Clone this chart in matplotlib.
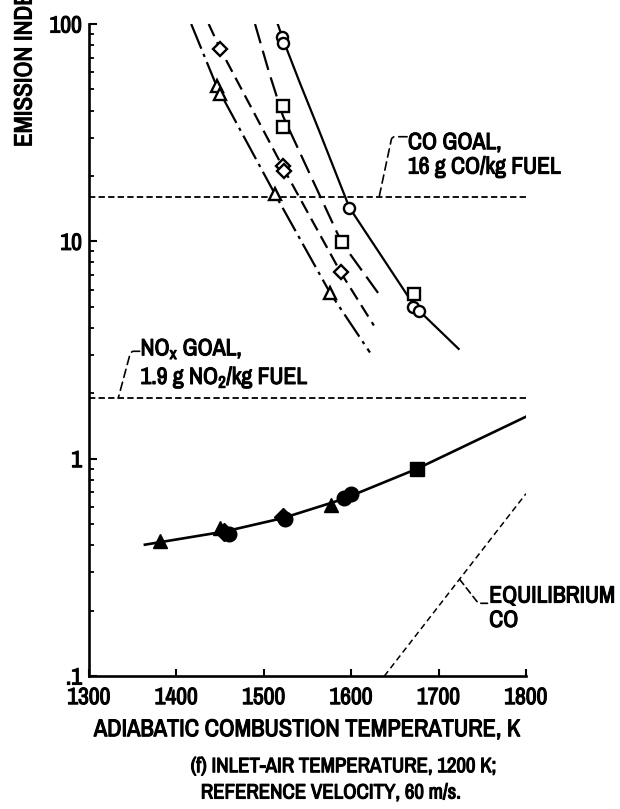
import numpy as np
import matplotlib
matplotlib.use('Agg')
import matplotlib.pyplot as plt
import matplotlib.patheffects as pe
from matplotlib import font_manager

# font: a narrow sans if there is one
names = {f.name for f in font_manager.fontManager.ttflist}
FONT = 'DejaVu Sans'
for cand in ['Archivo Narrow', 'Liberation Sans Narrow', 'Sofia Sans Condensed']:
    if cand in names:
        FONT = cand
        break
plt.rcParams['font.family'] = [FONT, 'DejaVu Sans']
plt.rcParams['mathtext.fontset'] = 'custom'
plt.rcParams['mathtext.rm'] = FONT + ':bold'
plt.rcParams['mathtext.it'] = FONT + ':bold'
plt.rcParams['mathtext.bf'] = FONT + ':bold'
plt.rcParams['mathtext.default'] = 'bf'
# thicken the strokes a bit, the scan lettering is heavy
HEAVY = [pe.withStroke(linewidth=0.8, foreground='k')]

# ---- data ----
# goal levels, g/kg fuel
CO_GOAL = 16
NOX_GOAL = 1.9

# CO emission index, open symbols
co_circle_T = [1521, 1522, 1598, 1671, 1678]
co_circle_EI = [87, 82, 14.3, 5.0, 4.8]
co_square_T = [1522, 1522, 1589, 1672]
co_square_EI = [42, 33.5, 9.9, 5.7]
co_diamond_T = [1450, 1522, 1523, 1588]
co_diamond_EI = [77, 22.2, 21.0, 7.2]
co_triangle_T = [1446, 1450, 1513, 1576]
co_triangle_EI = [52, 47.5, 16.5, 5.8]

# faired CO curves
fit_tri_T = [1417, 1446.5, 1512.8, 1575.8, 1621.5]
fit_tri_EI = [100, 51.3, 16.5, 5.8, 3.08]
fit_dia_T = [1437, 1450, 1523, 1588, 1626]
fit_dia_EI = [100, 77, 21.5, 7.2, 4.1]
fit_sq_T = [1490, 1506, 1522, 1555, 1589, 1632]
fit_sq_EI = [100, 60, 37.7, 19.5, 9.9, 5.7]
fit_cir_T = [1516, 1522, 1541, 1564, 1598, 1636, 1673, 1723]
fit_cir_EI = [100, 85, 54, 31.8, 14.3, 8.4, 5.0, 3.2]

# NOx emission index, solid symbols
nox_tri_T = [1381, 1450, 1577]
nox_tri_EI = [0.42, 0.48, 0.61]
nox_dia_T = [1455, 1522]
nox_dia_EI = [0.46, 0.54]
nox_cir_T = [1460, 1524, 1592, 1600]
nox_cir_EI = [0.45, 0.525, 0.66, 0.69]
nox_sq_T = [1675]
nox_sq_EI = [0.90]
fit_nox_T = [1364, 1455, 1522, 1590, 1675, 1800]
fit_nox_EI = [0.402, 0.462, 0.533, 0.65, 0.897, 1.56]

# equilibrium CO
eq_T = [1638, 1800]
eq_EI = [0.1, 0.69]

x_ticks = [1300, 1400, 1500, 1600, 1700, 1800]
y_ticks = [0.1, 1, 10, 100]
y_ticklabels = ['.1', '1', '10', '100']

fig = plt.figure(figsize=(6.2, 8.09), dpi=100)
ax = fig.add_axes([0.1435, 0.1644, 0.7048, 0.8059])
ax.set_yscale('log')
ax.set_xlim(1300, 1800)
ax.set_ylim(0.1, 100)

lw = 1.6
ax.plot(fit_tri_T, fit_tri_EI, color='k', lw=lw, ls=(0, (12, 2.5, 1.5, 2.5)))
ax.plot(fit_dia_T, fit_dia_EI, color='k', lw=lw, ls=(0, (6, 3)))
ax.plot(fit_sq_T, fit_sq_EI, color='k', lw=lw, ls=(0, (9, 3.5)))
ax.plot(fit_cir_T, fit_cir_EI, color='k', lw=lw, ls='-')
ax.plot(fit_nox_T, fit_nox_EI, color='k', lw=lw + 0.3, ls='-')
ax.plot(eq_T, eq_EI, color='k', lw=1.1, ls=(0, (4, 2.5)))

ax.axhline(CO_GOAL, color='k', lw=1.3, ls=(0, (3.5, 1.8)))
ax.axhline(NOX_GOAL, color='k', lw=1.3, ls=(0, (3.5, 1.8)))

opn = dict(ls='none', mfc='white', mec='k', mew=1.7, ms=8)
ax.plot(co_circle_T, co_circle_EI, marker='o', **opn)
ax.plot(co_square_T, co_square_EI, marker='s', **opn)
ax.plot(co_diamond_T, co_diamond_EI, marker='D', **dict(opn, ms=7))
ax.plot(co_triangle_T, co_triangle_EI, marker='^', **opn)

sld = dict(ls='none', mfc='k', mec='k', ms=10.5)
ax.plot(nox_tri_T, nox_tri_EI, marker='^', **sld)
ax.plot(nox_dia_T, nox_dia_EI, marker='D', **dict(sld, ms=9))
ax.plot(nox_cir_T, nox_cir_EI, marker='o', **sld)
ax.plot(nox_sq_T, nox_sq_EI, marker='s', **sld)

# labels with leaders
tfs = 17
ax.text(1665, 25, 'CO GOAL,\n16 g CO/kg FUEL', fontsize=tfs, fontweight='bold',
        va='center', ha='left', linespacing=1.2, path_effects=HEAVY)
ax.annotate('', xy=(1632, CO_GOAL), xytext=(1664, 30.3),
            arrowprops=dict(arrowstyle='-', color='k', lw=1.2, ls=(0, (5, 3)),
                            connectionstyle='angle,angleA=180,angleB=78,rad=3',
                            shrinkA=0, shrinkB=0))
ax.text(1359, 2.75, 'NO$_x$ GOAL,\n1.9 g NO$_2$/kg FUEL', fontsize=tfs,
        fontweight='bold', va='center', ha='left', linespacing=1.2,
        path_effects=HEAVY)
ax.annotate('', xy=(1333.5, NOX_GOAL), xytext=(1358, 3.12),
            arrowprops=dict(arrowstyle='-', color='k', lw=1.2, ls=(0, (5, 3)),
                            connectionstyle='angle,angleA=180,angleB=75,rad=3',
                            shrinkA=0, shrinkB=0))
eq_x = 1724
eq_y = 10 ** np.interp(eq_x, eq_T, np.log10(eq_EI))
ax.text(1758, 0.205, 'EQUILIBRIUM\nCO', fontsize=tfs, fontweight='bold',
        va='center', ha='left', linespacing=1.2, path_effects=HEAVY)
ax.annotate('', xy=(eq_x, eq_y), xytext=(1756, 0.216),
            arrowprops=dict(arrowstyle='-', color='k', lw=1.2, ls=(0, (4, 2.5)),
                            connectionstyle='angle,angleA=180,angleB=-52,rad=3',
                            shrinkA=0, shrinkB=0))

# axes styling
for s in ['top', 'right']:
    ax.spines[s].set_visible(False)
for s in ['left', 'bottom']:
    ax.spines[s].set_linewidth(1.9)
ax.set_xticks(x_ticks)
ax.set_xticklabels([str(t) for t in x_ticks])
ax.set_yticks(y_ticks)
ax.set_yticklabels(y_ticklabels)
ax.tick_params(axis='x', direction='in', length=5, width=1.5, pad=8, labelsize=17)
ax.tick_params(axis='y', which='major', direction='in', length=5.5, width=1.5,
               pad=5, labelsize=17)
ax.tick_params(axis='y', which='minor', direction='in', length=3.5, width=1.3)
ax.yaxis.set_minor_formatter(plt.NullFormatter())
for lab in ax.get_xticklabels() + ax.get_yticklabels():
    lab.set_fontweight('bold')
    lab.set_path_effects(HEAVY)

ax.set_xlabel('ADIABATIC COMBUSTION TEMPERATURE, K', fontsize=17.5,
              fontweight='bold', labelpad=8, path_effects=HEAVY)
fig.text(0.0387, 1 - 147 / 809, 'EMISSION INDEX, g/kg FUEL', rotation=90,
         ha='center', va='bottom', fontsize=18, fontweight='bold',
         path_effects=HEAVY)

fig.text(344 / 620, 1 - 766.7 / 809, '(f) INLET-AIR TEMPERATURE, 1200 K;',
         ha='center', va='center', fontsize=15, fontweight='bold',
         path_effects=HEAVY)
fig.text(331.5 / 620, 1 - 793 / 809, 'REFERENCE VELOCITY, 60 m/s.',
         ha='center', va='center', fontsize=15, fontweight='bold',
         path_effects=HEAVY)

fig.savefig('out.png', dpi=100)
